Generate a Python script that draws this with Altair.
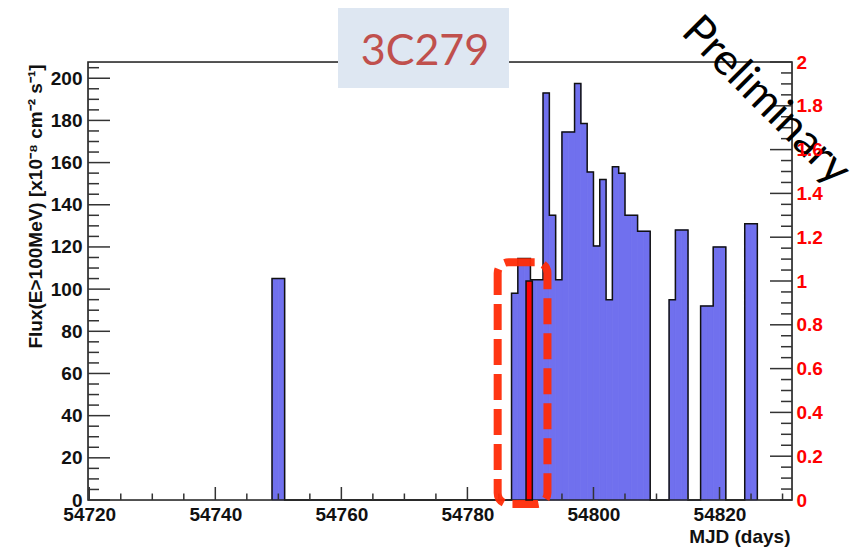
import altair as alt
import pandas as pd

# Daily gamma-ray flux bins (start day, MJD) and flux in units of 1e-8 cm^-2 s^-1
flux_days = [54749, 54750, 54787, 54788, 54789, 54790, 54791, 54792, 54793,
             54794, 54795, 54796, 54797, 54798, 54799, 54800, 54801, 54802,
             54803, 54804, 54805, 54806, 54807, 54808, 54812, 54813, 54814,
             54817, 54818, 54819, 54820, 54824, 54825]
flux_vals = [105, 105, 98, 114.5, 114.5, 104.5, 104.5, 193, 135,
             104.5, 174.5, 174.5, 197.5, 178.5, 155.5, 120.5, 152, 95,
             158, 155, 135, 135, 127.5, 127.5, 95, 128, 128,
             92, 92, 120, 120, 131, 131]

# VHE detection night (right-hand scale)
vhe_start = [54789.3]
vhe_end = [54790.3]
vhe_vals = [1.0]

# Highlight around the VHE night
box_x = [54784.8, 54792.7]
box_y = [112.8, -1.9]

# Axis ranges and tick values
x_domain = [54719.8, 54831.5]
y_domain = [0, 207.7]
y2_domain = [0, 2]
x_major = [54720, 54740, 54760, 54780, 54800, 54820]
x_minor = [54725, 54730, 54735, 54745, 54750, 54755, 54765, 54770, 54775,
           54785, 54790, 54795, 54805, 54810, 54815, 54825, 54830]
y_major = [0, 20, 40, 60, 80, 100, 120, 140, 160, 180, 200]
y_minor = [v for v in range(5, 206, 5) if v % 20 != 0]
r_major = [0, 0.2, 0.4, 0.6, 0.8, 1.0, 1.2, 1.4, 1.6, 1.8, 2.0]
r_minor = [round(0.05 * k, 2) for k in range(1, 40) if k % 4 != 0]

W, H = 704, 438
FONT = "Liberation Sans"
BAR_FILL = "#7070EE"

bins = pd.DataFrame({"start": flux_days,
                     "end": [d + 1 for d in flux_days],
                     "flux": flux_vals,
                     "base": [0] * len(flux_days)})

# Histogram outline as one step polyline (empty days sit on zero)
lookup = dict(zip(flux_days, flux_vals))
lo, hi = min(flux_days), max(flux_days) + 1
pts = []
prev = 0
for d in range(lo, hi + 1):
    v = lookup.get(d, 0)
    pts.append((d, prev))
    pts.append((d, v))
    prev = v
outline = pd.DataFrame({"x": [p[0] for p in pts], "y": [p[1] for p in pts],
                        "o": list(range(len(pts)))})

xs = alt.Scale(domain=x_domain, nice=False, zero=False)
ys = alt.Scale(domain=y_domain, nice=False, zero=False)
rs = alt.Scale(domain=y2_domain, nice=False, zero=False)

# One axis definition per scale, shared by every layer on that scale
x_axis = alt.Axis(
    values=x_major, format="d", ticks=False, tickSize=0, domain=False,
    grid=False, labelFont=FONT, labelFontWeight="bold", labelFontSize=19,
    labelColor="#111", labelPadding=5, labelFlush=False,
    title="MJD (days)", titleFont=FONT, titleFontWeight="bold",
    titleFontSize=19, titleColor="#111", titleAnchor="end",
    titleAlign="right", titleBaseline="middle", titleX=W - 2, titleY=36,
    zindex=1)
y_axis = alt.Axis(
    values=y_major, ticks=False, tickSize=0, domain=False, grid=False,
    labelFont=FONT, labelFontWeight="bold", labelFontSize=19,
    labelColor="#111", labelPadding=6, labelFlush=False,
    title="Flux(E>100MeV) [x10⁻⁸ cm⁻² s⁻¹]", titleFont=FONT,
    titleFontWeight="bold", titleFontSize=19, titleColor="#111",
    titleAngle=270, titleAlign="center", titleBaseline="middle",
    titleX=-53, titleY=144, zindex=1)
r_axis = alt.Axis(
    orient="right", values=r_major, format="~g", ticks=False, tickSize=0,
    domain=False, grid=False, labelFont=FONT, labelFontWeight="bold",
    labelFontSize=19, labelColor="#FF0000", labelPadding=4,
    labelFlush=False, title=None, zindex=1)

bars = alt.Chart(bins).mark_rect(
    color=BAR_FILL, stroke=BAR_FILL, strokeWidth=0.8).encode(
    x=alt.X("start:Q", scale=xs, axis=x_axis),
    x2="end:Q",
    y=alt.Y("flux:Q", scale=ys, axis=y_axis),
    y2="base:Q",
)

step_line = alt.Chart(outline).mark_line(
    color="#111", strokeWidth=1.5, interpolate="linear").encode(
    x=alt.X("x:Q", scale=xs, axis=x_axis),
    y=alt.Y("y:Q", scale=ys, axis=y_axis),
    order="o:Q",
)

frame = alt.Chart(pd.DataFrame({"k": [0]})).mark_rect(
    fill=None, stroke="#222", strokeWidth=1.6).encode(
    x=alt.value(0), x2=alt.value(W), y=alt.value(0), y2=alt.value(H))


def rules_y(vals, length, scale, axis, side_x):
    df = pd.DataFrame({"v": vals})
    x2 = side_x + length if side_x == 0 else side_x - length
    return alt.Chart(df).mark_rule(color="#333", strokeWidth=1.5).encode(
        y=alt.Y("v:Q", scale=scale, axis=axis),
        x=alt.value(side_x), x2=alt.value(x2))


def rules_x(vals, length):
    df = pd.DataFrame({"v": vals})
    return alt.Chart(df).mark_rule(color="#333", strokeWidth=1.5).encode(
        x=alt.X("v:Q", scale=xs, axis=x_axis),
        y=alt.value(H), y2=alt.value(H - length))


box = alt.Chart(pd.DataFrame({"x0": [box_x[0]], "x1": [box_x[1]],
                              "y0": [box_y[0]], "y1": [box_y[1]]})).mark_rect(
    fill=None, stroke="#FF2B06", strokeWidth=8, strokeDash=[26, 9],
    cornerRadius=11, opacity=0.95).encode(
    x=alt.X("x0:Q", scale=xs, axis=x_axis), x2="x1:Q",
    y=alt.Y("y0:Q", scale=ys, axis=y_axis), y2="y1:Q")

left_group = alt.layer(
    bars, step_line, frame,
    rules_y(y_major, 22, ys, y_axis, 0), rules_y(y_minor, 11, ys, y_axis, 0),
    rules_x(x_major, 13), rules_x(x_minor, 6.5),
    box,
)

vhe = alt.Chart(pd.DataFrame({"s": vhe_start, "e": vhe_end, "v": vhe_vals,
                              "b": [0] * len(vhe_vals)})).mark_rect(
    color="#FF0000", stroke="#111", strokeWidth=1.5).encode(
    x=alt.X("s:Q", scale=xs, axis=x_axis),
    x2="e:Q",
    y=alt.Y("v:Q", scale=rs, axis=r_axis),
    y2="b:Q",
)

right_group = alt.layer(
    vhe,
    rules_y(r_major, 22, rs, r_axis, W), rules_y(r_minor, 11, rs, r_axis, W),
)

label_df = pd.DataFrame({"k": [0]})
title_box = alt.Chart(label_df).mark_rect(fill="#DEE7F2").encode(
    x=alt.value(250), x2=alt.value(421), y=alt.value(-54), y2=alt.value(26))
title_text = alt.Chart(label_df).mark_text(
    text="3C279", font="Lato", fontSize=43, color="#C0504D",
    align="center", baseline="middle").encode(
    x=alt.value(337), y=alt.value(-10))
prelim = alt.Chart(label_df).mark_text(
    text="Preliminary", font="Lato", fontSize=44, color="#000",
    angle=45, align="center", baseline="middle").encode(
    x=alt.value(678), y=alt.value(39))

chart = alt.layer(left_group, right_group, title_box, title_text, prelim).resolve_scale(
    y="independent"
).properties(
    width=W, height=H,
    autosize=alt.AutoSizeParams(type="none"),
    padding={"left": 88, "top": 62, "right": 67, "bottom": 52},
).configure_view(stroke=None).configure(background="white")

chart.save("out.html", embed_options={"renderer": "svg", "actions": False})
